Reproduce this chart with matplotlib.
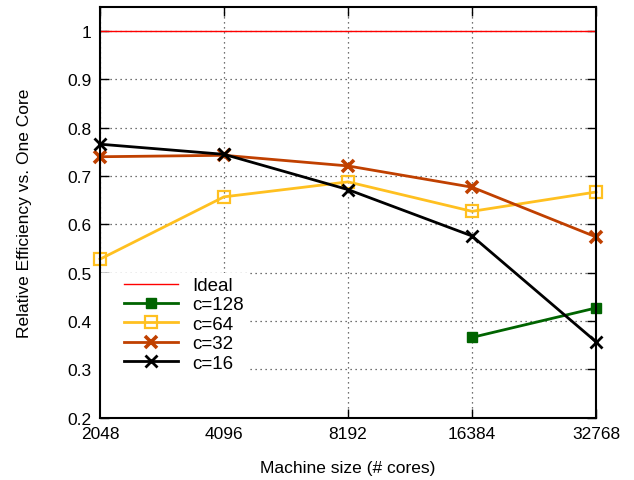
import matplotlib
matplotlib.use("Agg")
import matplotlib.pyplot as plt
from matplotlib.patches import Rectangle
import numpy as np

plt.rcParams['font.family'] = ['Liberation Sans', 'DejaVu Sans']

cores = [2048, 4096, 8192, 16384, 32768]
ideal = [1, 1, 1, 1, 1]
c128 = [np.nan, np.nan, np.nan, 0.366, 0.427]
c64 = [0.528, 0.657, 0.688, 0.627, 0.667]
c32 = [0.740, 0.743, 0.721, 0.677, 0.574]
c16 = [0.766, 0.745, 0.672, 0.576, 0.357]

fig = plt.figure(figsize=(6.34, 4.81), dpi=100)
ax = fig.add_axes([100/634, 1-418.6/481, 496/634, 410.6/481])

x = np.log2(cores)
ax.plot(x, ideal, color='#ff0000', lw=1, label='Ideal')
ax.plot(x, c128, color='#006400', lw=2, marker='s', ms=7, label='c=128', clip_on=False)
ax.plot(x, c64, color='#ffc020', lw=2, marker='s', ms=8, mfc='none', mew=1.6, label='c=64', clip_on=False)
ax.plot(x, c32, color='#c04000', lw=2, marker='x', ms=8, mew=2.6, label='c=32', clip_on=False)
ax.plot(x, c16, color='#000000', lw=2, marker='x', ms=8, mew=2, label='c=16', clip_on=False)

ax.set_xlim(x[0], x[-1])
ax.set_ylim(0.2, 1.05)
ax.set_xticks(x)
ax.set_xticklabels([str(c) for c in cores])
yt = [0.2, 0.3, 0.4, 0.5, 0.6, 0.7, 0.8, 0.9, 1.0]
ax.set_yticks(yt)
ax.set_yticklabels(['0.2', '0.3', '0.4', '0.5', '0.6', '0.7', '0.8', '0.9', '1'])
ax.tick_params(direction='in', top=True, right=True, length=6.5, width=1, labelsize=12.5, pad=6)
ax.grid(True, linestyle=(0, (1, 3)), color='#444444', lw=0.9)
for s in ax.spines.values():
    s.set_linewidth(1.5)
    s.set_zorder(5)

ax.set_xlabel('Machine size (# cores)', fontsize=12.5, labelpad=14)
ax.set_ylabel('Relative Efficiency vs. One Core', fontsize=12.5, labelpad=25.5)

# white backdrop behind the key (covers grid)
ax.add_patch(Rectangle((0, 0), 148/496, (418.6-274)/410.6, transform=ax.transAxes,
                       facecolor='white', edgecolor='none', zorder=1.8))

leg = ax.legend(loc='upper left', bbox_to_anchor=(24/496, (418.6-278)/410.6),
                frameon=False, fontsize=13.5, handlelength=2.9,
                labelspacing=0.12, borderaxespad=0.0, borderpad=0.0,
                handletextpad=0.75, numpoints=1)

fig.savefig('out.png', dpi=100)
